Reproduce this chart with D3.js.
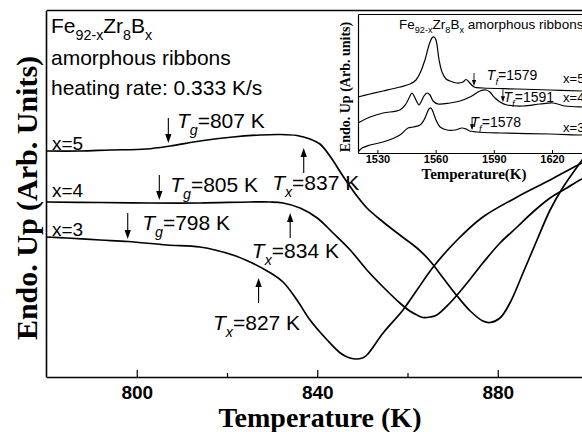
<!DOCTYPE html>
<html><head><meta charset="utf-8">
<script src="https://cdn.jsdelivr.net/npm/d3@7"></script>
<style>body{margin:0;background:#fff}</style>
</head><body><svg id="c" width="582" height="432"></svg>
<script>
// ---------- main chart data (Temperature K, Endo. Up arb. units) ----------
const tempX5 = [780,787.4,794.1,802.1,807.4,814.0,821.3,827.3,831.7,835.5,838.4,840.6,842.8,845.7,848.8,851.0,854.6,858.3,862.1,865.0,867.9,871.0,873.9,876.7,878.3,880.5,882.7,885.6,888.7,891.6,894.5,898.2,900.0];
const endoX5 = [226,226,227,228,231,236,240,242,242.5,241.5,238,233,221,201,181,169,155,142,129,116,99,81,66,56,54.5,59,74,104,137,167,190,214,225];
const tempX4 = [780,791.9,802.9,814.0,825.1,829.5,832.4,836.2,840.0,843.5,847.3,851.0,854.6,858.3,860.5,862.1,863.4,865.0,866.5,869.4,873.2,876.7,880.5,884.3,887.8,891.6,895.3,898.2,900.0];
const endoX4 = [175,174.5,174,174,175,175,174,169,159,144,127,107,90,74,66,62,59.5,60,62,74,94,114,134,150,165,179,189,197,201];
const tempX3 = [780,784.5,791.9,798.1,806.7,814.0,821.3,825.1,828.9,832.4,835.5,838.4,842.2,845.1,846.9,848.4,850.0,851.0,854.6,859.0,862.1,865.7,871.0,876.7,884.3,891.6,898.2,900.0];
const endoX3 = [140,139,137,135.5,132,130,122,115,106,95,77,57,37,24,19.5,18,19,22,44,67,87,110,137,160,180,197,213,217];
const seriesNames = ["x=5","x=4","x=3"];
const tgValues = [807,805,798];
const txValues = [837,834,827];
const xTicks = [800,840,880];
const xMinorTicks = [820,860];

// ---------- inset data ----------
const insetT5 = [1520,1526.2,1532.9,1541.6,1546.8,1549.9,1552.0,1554.5,1556.6,1558.1,1559.2,1560.2,1561.8,1563.3,1565.4,1567.4,1571.0,1574.1,1575.7,1577.2,1579.8,1584.4,1602.0,1619.0,1635.5,1640.6];
const insetY5 = [56,59,62,66,69,73,80,93,108,115,116,113,93,81,74,72,70,71,73.5,71,66,65,64,63,62,61.5];
const insetT4 = [1520,1526.2,1532.9,1541.6,1544.7,1546.8,1547.8,1548.9,1550.4,1551.4,1552.5,1554.0,1555.6,1557.1,1558.7,1561.2,1567.4,1572.6,1577.7,1582.9,1586.0,1588.0,1590.1,1593.2,1596.8,1605.1,1613.8,1620.5,1626.7,1635.5,1640.6];
const insetY4 = [30,36,40,43,49,57,60,57,51,48,51,57,60,58,52,49,50,52,56,62,63,61,56,51,48,47,49,50,47,46,46];
const insetT3 = [1520,1522.1,1526.2,1532.9,1541.6,1545.8,1548.4,1552.0,1554.0,1555.6,1556.6,1557.6,1558.7,1560.2,1562.3,1565.9,1570.0,1573.6,1575.7,1577.7,1581.3,1593.2,1619.0,1635.5,1640.6];
const insetY3 = [1,5,8,11,18,25,26,28,33,40,44,45,41,33,26,23,23,25,24,22,21,20,19,18,18];
const tfValues = [1579,1591,1578];
const tfArrowT = [1579.8,1594.7,1578.8];
const insetTicks = [1530,1560,1590,1620];

const SANS = "'Liberation Sans', Arial, sans-serif";
const SERIF = "'Liberation Serif', 'Times New Roman', serif";

const svg = d3.select("#c");
svg.append("rect").attr("width",582).attr("height",432).attr("fill","#fff");

// ---------- scales ----------
const x = d3.scaleLinear().domain([780,900]).range([46.5,588]);
const y = d3.scaleLinear().domain([0,367]).range([377,10]);

svg.append("clipPath").attr("id","mclip").append("rect")
  .attr("x",46).attr("y",10).attr("width",560).attr("height",367);

const line = d3.line().x(d=>x(d[0])).y(d=>y(d[1])).curve(d3.curveCatmullRom.alpha(0.5));
const mainSeries = [[tempX5,endoX5],[tempX4,endoX4],[tempX3,endoX3]];
const g = svg.append("g");
mainSeries.forEach(([t,v])=>{
  g.append("path").datum(d3.zip(t,v)).attr("d",line)
   .attr("fill","none").attr("stroke","#000").attr("stroke-width",1.7)
   .attr("clip-path","url(#mclip)");
});

// ---------- axes ----------
const xAxis = d3.axisBottom(x).tickValues(xTicks).tickSize(-7).tickSizeOuter(0).tickPadding(9).tickFormat(d3.format("d"));
const ax = svg.append("g").attr("transform","translate(0,377)").call(xAxis);
ax.select(".domain").attr("stroke","#000").attr("stroke-width",1.6);
ax.selectAll(".tick line").attr("stroke-width",1.2);
ax.selectAll("text").attr("font-family",SANS).attr("font-weight","bold").attr("font-size",19).attr("fill","#000");
const axm = svg.append("g").attr("transform","translate(0,377)")
  .call(d3.axisBottom(x).tickValues(xMinorTicks).tickSize(-4).tickSizeOuter(0).tickFormat(""));
axm.select(".domain").remove();
axm.selectAll(".tick line").attr("stroke-width",1.2);
const ay = svg.append("g").attr("transform","translate(46,0)")
  .call(d3.axisLeft(y).tickValues([]).tickSizeOuter(0));
ay.select(".domain").attr("stroke-width",1.6);
const at = svg.append("g").attr("transform","translate(0,10)")
  .call(d3.axisTop(x).tickValues([]).tickSizeOuter(0));
at.select(".domain").attr("stroke-width",1.6);

// axis titles
svg.append("text").attr("x",320).attr("y",427).attr("text-anchor","middle")
  .attr("font-family",SERIF).attr("font-weight","bold").attr("font-size",28)
  .text("Temperature (K)");
svg.append("text").attr("transform","translate(37,198) rotate(-90)").attr("text-anchor","middle")
  .attr("font-family",SERIF).attr("font-weight","bold").attr("font-size",30)
  .text("Endo. Up (Arb. Units)");

// ---------- rich text helper ----------
function rich(sel, px, py, parts, size){
  const t = sel.append("text").attr("x",px).attr("y",py)
    .attr("font-family",SANS).attr("font-size",size).attr("fill","#000");
  let shift = 0;
  parts.forEach(p=>{
    const sp = t.append("tspan").text(p.t);
    const target = p.sub ? size*0.33 : 0;
    sp.attr("dy", target - shift); shift = target;
    if (p.sub) sp.attr("font-size", size*0.68);
    if (p.it) sp.attr("font-style","italic");
  });
  return t;
}
function arrow(sel, px, y1, y2, head, w){
  // y1 tail, y2 tip
  sel.append("line").attr("x1",px).attr("x2",px).attr("y1",y1).attr("y2",y2 - Math.sign(y2-y1)*head*0.6)
    .attr("stroke","#000").attr("stroke-width",w);
  const s = Math.sign(y2-y1);
  sel.append("path").attr("d",`M${px},${y2} L${px-head*0.35},${y2-s*head} L${px+head*0.35},${y2-s*head} Z`).attr("fill","#000");
}

// top-left text
rich(svg,51,33,[{t:"Fe"},{t:"92-x",sub:true},{t:"Zr"},{t:"8",sub:true},{t:"B"},{t:"x",sub:true}],21);
rich(svg,51,65,[{t:"amorphous ribbons"}],21);
rich(svg,51,95,[{t:"heating rate: 0.333 K/s"}],21);

// series labels
seriesNames.forEach((n,i)=>{
  rich(svg,x(781.2),[150,197,236][i],[{t:n}],19);
});

// Tg / Tx annotations
const tgArrow = [[259,234],[202,177],[164,138]];
const tgLabel = [[808.9,249],[807.4,185],[801.2,147]];
const txArrow = [[204,229],[139,164],[74,99]];
const txLabel = [[830.0,187],[825.5,119],[816.9,47]];
tgValues.forEach((v,i)=>{
  arrow(svg,x(v),y(tgArrow[i][0]),y(tgArrow[i][1]),9,1.1);
  rich(svg,x(tgLabel[i][0]),y(tgLabel[i][1]),[{t:"T",it:true},{t:"g",sub:true,it:true},{t:"="+v+" K"}],21);
});
txValues.forEach((v,i)=>{
  arrow(svg,x(v),y(txArrow[i][0]),y(txArrow[i][1]),9,1.1);
  rich(svg,x(txLabel[i][0]),y(txLabel[i][1]),[{t:"T",it:true},{t:"x",sub:true,it:true},{t:"="+v+" K"}],21);
});

// ---------- inset ----------
const ix = d3.scaleLinear().domain([1520,1640]).range([358,590.8]);
const iy = d3.scaleLinear().domain([0,139]).range([153,14]);
const ins = svg.append("g");
ins.append("rect").attr("x",358).attr("y",14).attr("width",240).attr("height",139).attr("fill","#fff");
svg.append("clipPath").attr("id","iclip").append("rect").attr("x",358).attr("y",14).attr("width",240).attr("height",139);
const iline = d3.line().x(d=>ix(d[0])).y(d=>iy(d[1])).curve(d3.curveCatmullRom.alpha(0.5));
[[insetT5,insetY5],[insetT4,insetY4],[insetT3,insetY3]].forEach(([t,v])=>{
  ins.append("path").datum(d3.zip(t,v)).attr("d",iline).attr("fill","none")
    .attr("stroke","#000").attr("stroke-width",1.2).attr("clip-path","url(#iclip)");
});
const iax = ins.append("g").attr("transform","translate(0,153)")
  .call(d3.axisBottom(ix).tickValues(insetTicks).tickSize(-3).tickSizeOuter(0).tickPadding(2).tickFormat(d3.format("d")));
iax.select(".domain").attr("stroke-width",1.2);
iax.selectAll("text").attr("font-family",SANS).attr("font-weight","bold").attr("font-size",11).attr("fill","#000");
const iay = ins.append("g").attr("transform","translate(358,0)").call(d3.axisLeft(iy).tickValues([]).tickSizeOuter(0));
iay.select(".domain").attr("stroke-width",1.2);
const iat = ins.append("g").attr("transform","translate(0,14)").call(d3.axisTop(ix).tickValues([]).tickSizeOuter(0));
iat.select(".domain").attr("stroke-width",1.2);

ins.append("text").attr("x",474).attr("y",178.5).attr("text-anchor","middle")
  .attr("font-family",SERIF).attr("font-weight","bold").attr("font-size",15).text("Temperature(K)");
ins.append("text").attr("transform","translate(350,87) rotate(-90)").attr("text-anchor","middle")
  .attr("font-family",SERIF).attr("font-weight","bold").attr("font-size",14).text("Endo. Up (Arb. units)");
rich(ins,399,29,[{t:"Fe"},{t:"92-x",sub:true},{t:"Zr"},{t:"8",sub:true},{t:"B"},{t:"x",sub:true},{t:" amorphous ribbons"}],13.5);

const insetCurves = [[insetT5,insetY5],[insetT4,insetY4],[insetT3,insetY3]];
function interp(ts,vs,t){
  for(let k=1;k<ts.length;k++){ if(t<=ts[k]){const f=(t-ts[k-1])/(ts[k]-ts[k-1]); return vs[k-1]+f*(vs[k]-vs[k-1]);} }
  return vs[vs.length-1];
}
const tfLabelT = [1586.4,1595.0,1578.0];
const tfLabelV = [73,51,26];
tfValues.forEach((v,i)=>{
  const [ts,vs] = insetCurves[i];
  const tipY = iy(interp(ts,vs,tfArrowT[i])) - 1;
  arrow(ins,ix(tfArrowT[i]),tipY-13,tipY,6,0.9);
  rich(ins,ix(tfLabelT[i]),iy(tfLabelV[i]),[{t:"T",it:true},{t:"f",sub:true,it:true},{t:"="+v}],14);
});
const insetLabelV = [70,51,21];
seriesNames.forEach((n,i)=>{
  rich(ins,ix(1625.7),iy(insetLabelV[i]),[{t:n}],13);
});
</script></body></html>
